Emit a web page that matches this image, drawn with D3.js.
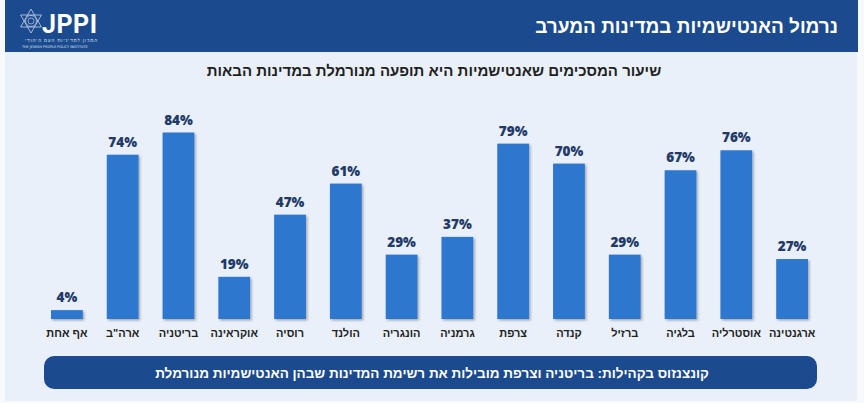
<!DOCTYPE html>
<html>
<head>
<meta charset="utf-8">
<script src="https://cdn.jsdelivr.net/npm/d3@7"></script>
<style>
  html, body { margin: 0; padding: 0; background: #f8f9fd; }
  svg { display: block; }
</style>
</head>
<body>
<script>
// countries, left to right as in the picture
const countries = ["אף אחת", "ארה\"ב", "בריטניה", "אוקראינה", "רוסיה", "הולנד", "הונגריה",
  "גרמניה", "צרפת", "קנדה", "ברזיל", "בלגיה", "אוסטרליה", "ארגנטינה"];
const agreePct = [4, 74, 84, 19, 47, 61, 29, 37, 79, 70, 29, 67, 76, 27];

const headerTitle = "נרמול האנטישמיות במדינות המערב";
const chartTitle = "שיעור המסכימים שאנטישמיות היא תופעה מנורמלת במדינות הבאות";
const footerNote = "קונצנזוס בקהילות: בריטניה וצרפת מובילות את רשימת המדינות שבהן האנטישמיות מנורמלת";

const W = 864, H = 403;
const hebFont = "'Liberation Sans', 'DejaVu Sans', sans-serif";

const data = countries.map((c, i) => ({ country: c, value: agreePct[i] }));

const svg = d3.select("body").append("svg")
  .attr("width", W)
  .attr("height", H);

const defs = svg.append("defs");
const shadow = defs.append("filter").attr("id", "barShadow")
  .attr("x", "-20%").attr("y", "-20%").attr("width", "150%").attr("height", "150%");
shadow.append("feDropShadow")
  .attr("dx", 1.5).attr("dy", 1.5).attr("stdDeviation", 0.8)
  .attr("flood-color", "#000").attr("flood-opacity", 0.3);

// panel + header
svg.append("rect").attr("x", 5).attr("y", 0).attr("width", 852).attr("height", 401)
  .attr("fill", "#e9f0f9");
svg.append("rect").attr("x", 5).attr("y", 0).attr("width", 853).attr("height", 52)
  .attr("fill", "#1b4a8e");

svg.append("text")
  .attr("x", 838).attr("y", 33)
  .attr("direction", "rtl")
  .attr("text-anchor", "start")
  .style("font-family", hebFont)
  .style("font-weight", "bold")
  .style("font-size", "19px")
  .attr("fill", "#fff")
  .text(headerTitle);

// logo (star + JPPI)
const logo = svg.append("g").attr("class", "logo");
const cx = 31, cy = 21, r = 12;
const tri = (rot) => d3.range(3).map(k => {
  const a = (rot + k * 120) * Math.PI / 180;
  return [cx + r * Math.sin(a), cy - r * Math.cos(a)];
});
[0, 180].forEach(rot => {
  logo.append("polygon")
    .attr("points", tri(rot).map(p => p.join(",")).join(" "))
    .attr("fill", "none").attr("stroke", "#dfe7f3").attr("stroke-width", 0.7);
});
[3, 5.5].forEach(rr => logo.append("circle").attr("cx", cx).attr("cy", cy).attr("r", rr)
  .attr("fill", "none").attr("stroke", "#dfe7f3").attr("stroke-width", 0.6));
logo.append("text")
  .attr("x", 42).attr("y", 33)
  .style("font-family", "'Liberation Sans Narrow', 'Roboto', sans-serif")
  .style("font-weight", "bold")
  .style("font-size", "25px")
  .attr("fill", "#fff")
  .attr("textLength", 55)
  .text("JPPI");
logo.append("text")
  .attr("x", 97).attr("y", 42)
  .attr("direction", "rtl").attr("text-anchor", "start")
  .style("font-family", hebFont).style("font-size", "4.5px")
  .attr("fill", "#dfe7f3")
  .attr("textLength", 72)
  .text("המכון למדיניות העם היהודי");
logo.append("text")
  .attr("x", 22).attr("y", 48)
  .style("font-family", "'DejaVu Sans', sans-serif").style("font-size", "3.4px")
  .attr("fill", "#dfe7f3")
  .text("THE JEWISH PEOPLE POLICY INSTITUTE");

// chart title
svg.append("text")
  .attr("x", 434).attr("y", 76)
  .attr("direction", "rtl")
  .attr("text-anchor", "middle")
  .style("font-family", hebFont)
  .style("font-weight", "bold")
  .style("font-size", "15px")
  .attr("fill", "#1f1f1f")
  .text(chartTitle);

// scales
const x = d3.scaleBand()
  .domain(countries)
  .range([39, 820])
  .paddingInner(0.43)
  .paddingOuter(0.215);

const y = d3.scaleLinear()
  .domain([0, 100])
  .range([319, 97]);

const bars = svg.append("g").attr("class", "bars");

bars.selectAll("rect")
  .data(data)
  .enter().append("rect")
  .attr("x", d => x(d.country))
  .attr("y", d => y(d.value))
  .attr("width", x.bandwidth())
  .attr("height", d => y(0) - y(d.value))
  .attr("fill", "#2e77cf")
  .attr("filter", "url(#barShadow)");

bars.selectAll(".val")
  .data(data)
  .enter().append("text")
  .attr("class", "val")
  .attr("x", d => x(d.country) + x.bandwidth() / 2)
  .attr("y", d => y(d.value) - 8)
  .attr("text-anchor", "middle")
  .style("font-family", "'Open Sans', sans-serif")
  .style("font-weight", 800)
  .style("font-size", "13.5px")
  .attr("fill", "#1f3a68")
  .text(d => d.value + "%");

// x axis labels (no line, labels only)
const xAxis = svg.append("g")
  .attr("transform", `translate(0,${y(0)})`)
  .call(d3.axisBottom(x).tickSize(0).tickPadding(10));
xAxis.select(".domain").remove();
xAxis.selectAll("text")
  .attr("direction", "rtl")
  .style("font-family", hebFont)
  .style("font-weight", "bold")
  .style("font-size", "11px")
  .attr("fill", "#222");

// footer banner
svg.append("rect")
  .attr("x", 44).attr("y", 356)
  .attr("width", 773).attr("height", 33)
  .attr("rx", 10).attr("ry", 10)
  .attr("fill", "#1b4a8e");
svg.append("text")
  .attr("x", 432).attr("y", 378)
  .attr("direction", "rtl")
  .attr("text-anchor", "middle")
  .style("font-family", hebFont)
  .style("font-weight", "bold")
  .style("font-size", "13.5px")
  .attr("fill", "#fff")
  .text(footerNote);
</script>
</body>
</html>
